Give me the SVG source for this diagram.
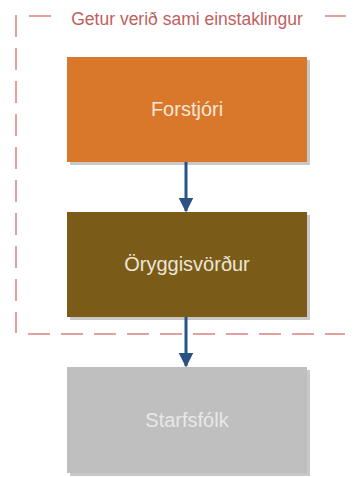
<svg xmlns="http://www.w3.org/2000/svg" width="355" height="477" viewBox="0 0 355 477">
<defs>
<style>
.sh{fill:#c8c8c8}
.lbl{font-family:"Liberation Sans",Arial,sans-serif;font-size:20px;text-anchor:middle}
.dash{stroke:#d9827f;stroke-width:1.5;fill:none;stroke-dasharray:22 11}
.conn{stroke:#2b5283;stroke-width:3;fill:none}
</style>
<marker id="ah" viewBox="0 0 10 10" refX="9" refY="5" markerWidth="4.8" markerHeight="4.8" orient="auto" markerUnits="strokeWidth">
<path d="M0,0 L10,5 L0,10 z" fill="#2b5283"/>
</marker>
</defs>
<rect width="355" height="477" fill="#ffffff"/>
<g id="group-boundary">
<path class="dash" d="M16,15 V333"/>
<path class="dash" d="M28,334 H345"/>
<path class="dash" d="M29,16 H51"/>
<path class="dash" d="M325,16 H346"/>
<text x="187" y="25" font-family="'Liberation Sans',Arial,sans-serif" font-size="17.5" fill="#c0605e" text-anchor="middle">Getur verið sami einstaklingur</text>
</g>
<g id="forstjori">
<rect class="sh" x="70" y="60" width="240" height="105"/>
<rect x="67" y="57" width="240" height="105" fill="#d9782b"/>
<text class="lbl" x="187" y="116" fill="#f6e6d8">Forstjóri</text>
</g>
<g id="oryggisvordur">
<rect class="sh" x="70" y="215" width="240" height="105"/>
<rect x="67" y="212" width="240" height="105" fill="#7a5c18"/>
<text class="lbl" x="187" y="271" fill="#ece6d6">Öryggisvörður</text>
</g>
<g id="starfsfolk">
<rect class="sh" x="70" y="370" width="240" height="106"/>
<rect x="67" y="367" width="240" height="106" fill="#bfbfbf"/>
<text class="lbl" x="187" y="427" fill="#e8e8e8">Starfsfólk</text>
</g>
<g id="connectors">
<line class="conn" x1="186" y1="162" x2="186" y2="211" marker-end="url(#ah)"/>
<line class="conn" x1="186" y1="317" x2="186" y2="366" marker-end="url(#ah)"/>
</g>
</svg>
